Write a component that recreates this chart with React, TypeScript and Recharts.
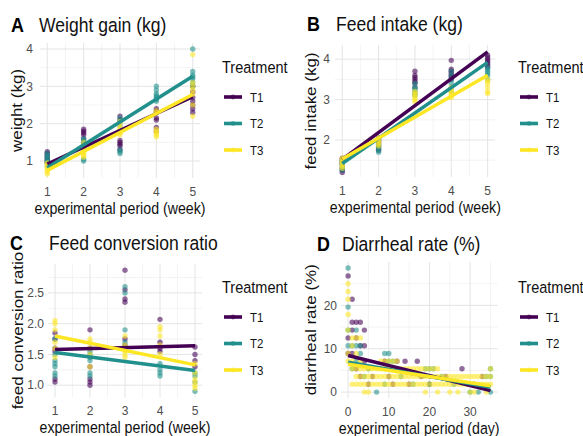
import React from "react";
import { CartesianGrid, ComposedChart, Scatter, XAxis, YAxis } from "recharts";

const COLORS = ["#440154", "#21908C", "#FDE725"];
const TREATMENTS = ["T1", "T2", "T3"];
const FONT = "'Liberation Sans', Arial, Helvetica, sans-serif";

// ---- A: weight gain (kg), one row per week
const weeks = [1, 2, 3, 4, 5];
const weightT1 = [
  [0.95, 1.0, 1.05, 1.1, 1.15, 1.2, 1.25],
  [1.4, 1.5, 1.6, 1.7, 1.75, 1.8, 1.85],
  [1.3, 1.4, 1.45, 1.5, 1.55, 2.1, 2.2],
  [1.8, 1.9, 2.1, 2.15, 2.3, 2.35, 2.4],
  [2.3, 2.4, 2.5, 2.6, 2.7, 2.85, 3.0],
];
const weightT2 = [
  [0.85, 0.95, 1.0, 1.05, 1.1, 1.15, 1.2],
  [1.0, 1.05, 1.3, 1.45, 1.5, 1.55, 1.6],
  [1.2, 1.25, 1.3, 1.8, 1.95, 2.05, 2.15],
  [2.6, 2.65, 2.7, 2.75, 2.8, 2.9, 3.0],
  [3.0, 3.1, 3.2, 3.25, 3.3, 3.4, 4.0],
];
const weightT3 = [
  [0.65, 0.7, 0.75, 0.8, 0.85, 0.9, 0.95],
  [1.1, 1.15, 1.2, 1.25, 1.3, 1.4, 1.5],
  [1.7, 1.75, 1.8, 1.85, 1.9, 2.0, 2.05],
  [1.65, 1.7, 1.75, 1.8, 1.85, 2.3, 2.35],
  [2.2, 2.5, 2.8, 2.9, 3.0, 3.1, 3.85],
];
// fitted value at week 1 and week 5
const weightFit = [
  [0.92, 2.72],
  [0.82, 3.27],
  [0.75, 2.78],
];

// ---- B: feed intake (kg)
const intakeT1 = [
  [1.2, 1.25, 1.3, 1.4, 1.45, 1.5, 1.55],
  [1.75, 1.8, 1.85, 1.9, 1.95, 2.0, 2.05],
  [3.3, 3.4, 3.45, 3.5, 3.55, 3.6, 3.7],
  [3.5, 3.55, 3.6, 3.65, 3.7, 3.75, 3.97],
  [3.8, 3.85, 3.9, 3.95, 4.0, 4.05, 4.1],
];
const intakeT2 = [
  [1.25, 1.3, 1.35, 1.4, 1.45, 1.5],
  [1.7, 1.75, 1.8, 1.85, 1.9, 2.0],
  [3.1, 3.15, 3.2, 3.25, 3.3, 3.4],
  [3.2, 3.3, 3.4, 3.5, 3.6, 3.7],
  [3.5, 3.6, 3.65, 3.7, 3.75, 3.8],
];
const intakeT3 = [
  [1.3, 1.35, 1.4, 1.45, 1.5, 1.55],
  [1.85, 1.9, 1.95, 2.0, 2.05],
  [2.95, 3.0, 3.05, 3.1, 3.15, 3.2],
  [3.05, 3.1, 3.15, 3.2, 3.25, 3.3],
  [3.15, 3.2, 3.3, 3.4, 3.45, 3.5],
];
const intakeFit = [
  [1.52, 4.18],
  [1.42, 3.92],
  [1.53, 3.6],
];

// ---- C: feed conversion ratio
const fcrT1 = [
  [1.05, 1.1, 1.55, 1.6, 1.75, 1.85],
  [1.0, 1.05, 1.1, 1.3, 1.6, 1.9],
  [1.65, 1.75, 2.35, 2.4, 2.55, 2.87],
  [1.55, 1.6, 1.7, 2.07],
  [1.3, 1.4, 1.5, 1.62],
];
const fcrT2 = [
  [1.15, 1.2, 1.3, 1.35, 1.4, 1.5, 1.75],
  [1.15, 1.2, 1.4, 1.45, 1.5, 1.55],
  [1.6, 1.7, 1.9, 2.5, 2.6],
  [1.15, 1.2, 1.25, 1.35],
  [0.9, 1.05, 1.15, 1.2],
];
const fcrT3 = [
  [1.45, 1.6, 1.7, 1.9, 2.0, 2.05],
  [1.3, 1.5, 1.6, 1.7, 1.75],
  [1.45, 1.5, 1.55, 1.65, 1.8],
  [1.5, 1.65, 1.8, 1.9, 1.95],
  [0.95, 1.0, 1.05, 1.1, 1.2, 1.35],
];
const fcrFit = [
  [1.58, 1.64],
  [1.53, 1.24],
  [1.8, 1.33],
];

// ---- D: diarrheal rate (%), [day, rate]
const diarT1: number[][] = [
  [0, 26.8], [0, 12.5], [0, 8.9], [1, 21.4], [1, 16.1], [1, 14.3], [1, 8.9],
  [2, 16.1], [2, 12.5], [2, 5.4], [3, 16.1], [3, 10.7], [3, 3.6], [4, 14.3],
  [4, 10.7], [4, 7.1], [5, 1.8], [6, 3.6], [9, 7.1], [10, 3.6], [11, 1.8],
  [12, 7.1], [14, 7.1], [15, 1.8], [17, 7.1], [18, 3.6], [20, 1.8], [24, 3.6],
  [28, 5.4], [31, 1.8], [33, 3.6],
];
const diarT2: number[][] = [
  [0, 28.6], [0, 19.6], [0, 14.3], [0, 10.7], [1, 10.7], [1, 5.4], [2, 14.3],
  [2, 10.7], [2, 7.1], [3, 10.7], [3, 8.9], [4, 3.6], [5, 5.4], [7, 0],
  [9, 8.9], [9, 1.8], [10, 8.9], [10, 7.1], [11, 7.1], [13, 3.6], [16, 1.8],
  [19, 5.4], [20, 5.4], [21, 5.4], [20, 1.8], [23, 3.6], [26, 1.8], [30, 0],
  [32, 0], [34, 3.6], [35, 5.4], [35, 3.6], [35, 0],
];
const diarT3: number[][] = [
  [0, 25.0], [0, 23.2], [0, 21.4], [0, 17.9], [0, 14.3], [0, 8.9], [0, 7.1],
  [1, 12.5], [1, 10.7], [1, 7.1], [2, 12.5], [2, 8.9], [3, 12.5], [3, 7.1],
  [4, 0], [5, 0], [8, 7.1], [9, 7.1], [10, 7.1], [11, 7.1], [12, 7.1],
  [19, 0], [22, 0], [25, 0], [27, 0], [30, 0], [31, 0], [34, 0], [35, 5.4],
];
// days on which T3 sits on the low rate levels
const diarT3Days18 = [1, 2, 3, 4, 5, 6, 7, 8, 9, 10, 11, 12, 13, 14, 15, 16, 17, 18, 19, 20, 21, 22, 23, 24, 25, 26, 27, 28, 29, 30, 31, 32, 33, 34, 35];
const diarT3Days36 = [2, 3, 4, 5, 6, 7, 8, 9, 10, 11, 12, 13, 14, 15, 16, 17, 18, 19, 20, 21, 22, 23, 24, 25, 26, 27, 28, 29, 30, 31, 32, 33, 34, 35];
const diarT3Days54 = [1, 2, 3, 4, 5, 6, 7, 8, 9, 10, 11, 12, 13, 14, 15, 16, 17, 18, 19, 20, 21, 22];
const diarFit = [
  [8.45, 0.35],
  [6.9, 1.1],
  [6.4, 1.45],
];

type Pt = { x: number; y: number };

const byWeek = (rows: number[][]): Pt[] =>
  rows.flatMap((vals, i) => vals.map((y) => ({ x: weeks[i], y })));
const pairs = (rows: number[][]): Pt[] => rows.map(([x, y]) => ({ x, y }));
const fit = (xs: number[], ys: number[]): Pt[] => xs.map((x, i) => ({ x, y: ys[i] }));

const diarT3All: Pt[] = [
  ...pairs(diarT3),
  ...diarT3Days18.map((x) => ({ x, y: 1.8 })),
  ...diarT3Days36.map((x) => ({ x, y: 3.6 })),
  ...diarT3Days54.map((x) => ({ x, y: 5.4 })),
];

type PanelDef = {
  letter: string;
  title: string;
  xTitle: string;
  yTitle: string;
  plot: { x0: number; x1: number; y0: number; y1: number };
  xDomain: [number, number];
  yDomain: [number, number];
  xTicks: number[];
  xMinor: number[];
  yTicks: number[];
  yMinor: number[];
  yFmt?: (v: number) => string;
  yTickMargin: number;
  points: Pt[][];
  fits: Pt[][];
  letterPos: [number, number];
  titleX: number;
  yTitleX: number;
  legend: { x: number; y: number };
};

const panels: PanelDef[] = [
  {
    letter: "A",
    title: "Weight gain (kg)",
    xTitle: "experimental period (week)",
    yTitle: "weight (kg)",
    plot: { x0: 40, x1: 200, y0: 43, y1: 178 },
    xDomain: [0.8, 5.2],
    yDomain: [0.545, 4.16],
    xTicks: weeks,
    xMinor: [1.5, 2.5, 3.5, 4.5],
    yTicks: [1, 2, 3, 4],
    yMinor: [1.5, 2.5, 3.5],
    yTickMargin: 7,
    points: [byWeek(weightT1), byWeek(weightT2), byWeek(weightT3)],
    fits: weightFit.map((f) => fit([1, 5], f)),
    letterPos: [11, 32],
    titleX: 39,
    yTitleX: 22,
    legend: { x: 222, y: 67 },
  },
  {
    letter: "B",
    title: "Feed intake (kg)",
    xTitle: "experimental period (week)",
    yTitle: "feed intake (kg)",
    plot: { x0: 335.4, x1: 495.3, y0: 45, y1: 177 },
    xDomain: [0.8, 5.2],
    yDomain: [1.086, 4.35],
    xTicks: weeks,
    xMinor: [1.5, 2.5, 3.5, 4.5],
    yTicks: [2, 3, 4],
    yMinor: [1.5, 2.5, 3.5],
    yTickMargin: 5,
    points: [byWeek(intakeT1), byWeek(intakeT2), byWeek(intakeT3)],
    fits: intakeFit.map((f) => fit([1, 5], f)),
    letterPos: [307, 31],
    titleX: 336,
    yTitleX: 316,
    legend: { x: 518, y: 67 },
  },
  {
    letter: "C",
    title: "Feed conversion ratio",
    xTitle: "experimental period (week)",
    yTitle: "feed conversion ratio",
    plot: { x0: 48, x1: 202, y0: 263.8, y1: 397.3 },
    xDomain: [0.8, 5.2],
    yDomain: [0.8, 2.97],
    xTicks: weeks,
    xMinor: [1.5, 2.5, 3.5, 4.5],
    yTicks: [1.0, 1.5, 2.0, 2.5],
    yMinor: [1.25, 1.75, 2.25, 2.75],
    yFmt: (v) => v.toFixed(1),
    yTickMargin: 4,
    points: [byWeek(fcrT1), byWeek(fcrT2), byWeek(fcrT3)],
    fits: fcrFit.map((f) => fit([1, 5], f)),
    letterPos: [10, 250],
    titleX: 49,
    yTitleX: 23,
    legend: { x: 222, y: 287 },
  },
  {
    letter: "D",
    title: "Diarrheal rate (%)",
    xTitle: "experimental period (day)",
    yTitle: "diarrheal rate (%)",
    plot: { x0: 340.9, x1: 497.5, y0: 261.6, y1: 397.9 },
    xDomain: [-1.75, 36.75],
    yDomain: [-1.43, 30],
    xTicks: [0, 10, 20, 30],
    xMinor: [5, 15, 25, 35],
    yTicks: [0, 10, 20],
    yMinor: [5, 15, 25],
    yTickMargin: 4,
    points: [pairs(diarT1), pairs(diarT2), diarT3All],
    fits: diarFit.map((f) => fit([0, 35], f)),
    letterPos: [317, 251],
    titleX: 342,
    yTitleX: 316,
    legend: { x: 518, y: 287 },
  },
];

const tickStyle = { fill: "#4d4d4d", fontSize: 12, fontFamily: FONT };
const Y_W = 40;
const TOP_PAD = 10;
const X_H = 30;

function Panel({ p }: { p: PanelDef }) {
  const w = p.plot.x1 - p.plot.x0;
  const h = p.plot.y1 - p.plot.y0;
  return (
    <div
      style={{
        position: "absolute",
        left: p.plot.x0 - Y_W,
        top: p.plot.y0 - TOP_PAD,
      }}
    >
      <ComposedChart
        width={w + Y_W + 4}
        height={h + TOP_PAD + X_H}
        margin={{ top: TOP_PAD, right: 4, bottom: 0, left: 0 }}
      >
        <CartesianGrid
          horizontalValues={p.yMinor}
          verticalValues={p.xMinor}
          stroke="#efefef"
          strokeWidth={0.7}
        />
        <CartesianGrid
          horizontalValues={p.yTicks}
          verticalValues={p.xTicks}
          stroke="#e4e4e4"
          strokeWidth={1}
        />
        <XAxis
          type="number"
          dataKey="x"
          domain={p.xDomain}
          ticks={p.xTicks}
          interval={0}
          allowDataOverflow
          axisLine={false}
          tickLine={false}
          tickSize={0}
          tickMargin={9}
          height={X_H}
          tick={tickStyle}
        />
        <YAxis
          type="number"
          dataKey="y"
          domain={p.yDomain}
          ticks={p.yTicks}
          interval={0}
          allowDataOverflow
          axisLine={false}
          tickLine={false}
          tickSize={0}
          tickMargin={p.yTickMargin}
          width={Y_W}
          tick={tickStyle}
          tickFormatter={p.yFmt}
        />
        {p.points.map((pts, i) => (
          <Scatter
            key={`pts-${i}`}
            data={pts}
            isAnimationActive={false}
            shape={(s: any) => (
              <circle cx={s.cx} cy={s.cy} r={2.7} fill={COLORS[i]} fillOpacity={0.58} />
            )}
          />
        ))}
        {p.fits.map((pts, i) => (
          <Scatter
            key={`fit-${i}`}
            data={pts}
            isAnimationActive={false}
            line={{ stroke: COLORS[i], strokeWidth: 3.5 }}
            shape={() => <g />}
          />
        ))}
      </ComposedChart>
    </div>
  );
}

function Texts({ p }: { p: PanelDef }) {
  const cx = (p.plot.x0 + p.plot.x1) / 2;
  const cy = (p.plot.y0 + p.plot.y1) / 2;
  const lx = p.legend.x;
  const itemY = [30, 56.5, 83];
  return (
    <g fontFamily={FONT}>
      <text
        transform={`translate(${p.letterPos[0]},${p.letterPos[1]}) scale(0.92,1)`}
        fontSize={19.5}
        fontWeight="bold"
        fill="#000"
      >
        {p.letter}
      </text>
      <text transform={`translate(${p.titleX},${p.letterPos[1]}) scale(0.9,1)`} fontSize={19.5} fill="#111">
        {p.title}
      </text>
      <text
        transform={`translate(${cx},${p.plot.y1 + 36}) scale(0.86,1)`}
        fontSize={16.5}
        textAnchor="middle"
        fill="#111"
      >
        {p.xTitle}
      </text>
      <text
        transform={`translate(${p.yTitleX},${cy}) rotate(-90) scale(1,0.9)`}
        fontSize={17}
        textAnchor="middle"
        fill="#111"
      >
        {p.yTitle}
      </text>
      <text transform={`translate(${lx},${p.legend.y + 6}) scale(0.88,1)`} fontSize={16.5} fill="#111">
        Treatment
      </text>
      {TREATMENTS.map((t, i) => {
        const y = p.legend.y + itemY[i];
        return (
          <g key={t}>
            <line x1={lx + 2} x2={lx + 20} y1={y} y2={y} stroke={COLORS[i]} strokeWidth={3.6} />
            <circle cx={lx + 11} cy={y} r={2.4} fill={COLORS[i]} fillOpacity={0.6} />
            <text transform={`translate(${lx + 28},${y + 4.8}) scale(0.88,1)`} fontSize={13} fill="#111">
              {t}
            </text>
          </g>
        );
      })}
    </g>
  );
}

export default function App() {
  return (
    <div
      style={{
        position: "absolute",
        left: 0,
        top: 0,
        width: 583,
        height: 436,
        background: "#fff",
        overflow: "hidden",
      }}
    >
      {panels.map((p) => (
        <Panel key={p.letter} p={p} />
      ))}
      <svg
        width={583}
        height={436}
        style={{ position: "absolute", left: 0, top: 0, pointerEvents: "none" }}
      >
        {panels.map((p) => (
          <Texts key={p.letter} p={p} />
        ))}
      </svg>
    </div>
  );
}
